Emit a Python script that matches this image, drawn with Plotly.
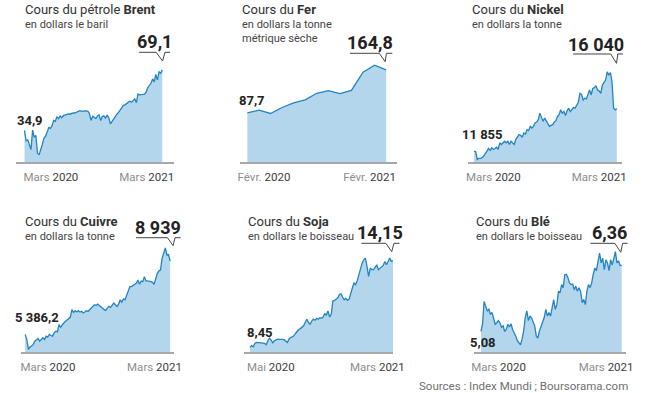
import plotly.graph_objects as go

W, H = 664, 393
FONT = "Roboto"
FILL = "#b3d6ec"
LINE = "#2384c2"
AXIS = "#a8a8a8"
DARK = "#222222"

# ---------------- data ----------------
brent = [34.9, 29.0, 29.5, 26.5, 24.0, 35.0, 31.0, 32.0, 22.0, 21.0, 23.5, 27.0, 30.5, 31.5,
         34.0, 36.5, 36.0, 37.5, 40.5, 40.0, 42.5, 41.5, 43.0, 42.0, 43.2, 43.5, 43.8, 44.2,
         44.0, 44.6, 44.8, 44.7, 45.3, 45.8, 46.0, 45.8, 45.6, 45.9, 46.0, 45.7, 44.5, 40.5,
         42.8, 42.0, 41.5, 43.0, 43.7, 40.4, 42.8, 43.0, 41.8, 43.5, 42.0, 38.5, 40.0, 40.9,
         42.5, 44.0, 45.0, 46.5, 47.8, 49.0, 49.3, 50.0, 50.8, 51.5, 50.8, 51.8, 52.7, 50.5,
         55.5, 55.0, 54.9, 55.2, 55.3, 56.5, 59.0, 60.5, 61.5, 64.0, 62.3, 66.5, 63.4, 68.0,
         67.2, 69.1]

fer = [87.7, 92.7, 86.8, 97.5, 105.7, 111.1, 122.9, 127.6, 122.3, 128.2, 160.7, 173.1, 164.8]

nickel = [11855, 11789, 11038, 11136, 11136, 11201, 11364, 11691, 11854, 12116, 11920, 12181,
          12018, 12116, 12246, 12018, 12671, 12507, 12671, 12834, 12671, 12834, 12507, 12834,
          12671, 12507, 13000, 13324, 13487, 13422, 13226, 13651, 13553, 13978, 13880, 14304,
          14141, 14304, 14631, 14729, 14958, 15611, 15186, 14795, 15121, 14795, 14468, 14304,
          14402, 14468, 14729, 14860, 15284, 15448, 15938, 15611, 15775, 15383, 15840, 16101,
          15775, 16036, 16167, 16101, 16428, 16689, 17571, 17473, 16918, 17081, 17016, 17408,
          17898, 17408, 18062, 18127, 18323, 17898, 17800, 17571, 18388, 18650, 18878, 19695,
          19368, 19630, 18715, 16101, 15938, 16040]

cuivre = [5386.2, 5144, 4664, 4776, 4824, 4904, 5064, 5144, 5192, 5064, 5144, 5224, 5144, 5304,
          5256, 5384, 5336, 5304, 5464, 5544, 5512, 5864, 5736, 5864, 5944, 6024, 6088, 6152,
          6216, 6584, 6456, 6536, 6472, 6536, 6472, 6504, 6424, 6472, 6536, 6504, 6584, 6664,
          6792, 6824, 6792, 6856, 6792, 6744, 6664, 6584, 6552, 6664, 6744, 6696, 6792, 6904,
          6824, 6744, 6856, 7064, 6952, 7112, 7064, 7304, 7432, 7704, 7704, 7752, 7816, 7864,
          8024, 7816, 7976, 7944, 8184, 7976, 7976, 7976, 7944, 7912, 7816, 8072, 8344, 8456,
          8504, 9064, 9384, 9576, 9224, 9256, 8939]

soja = [8.45, 8.56, 8.49, 8.71, 8.77, 8.77, 8.75, 8.75, 8.73, 8.71, 8.62, 8.88, 9.06, 8.93,
        8.75, 8.88, 8.93, 8.99, 8.97, 8.99, 8.97, 8.95, 8.88, 8.77, 8.99, 9.10, 9.14, 9.21,
        9.36, 9.53, 9.62, 9.68, 9.75, 9.86, 10.08, 10.30, 10.08, 9.97, 10.18, 10.30, 10.23,
        10.36, 10.30, 10.40, 10.36, 10.44, 10.66, 10.57, 10.84, 10.44, 10.62, 11.49, 11.53,
        11.60, 11.70, 11.92, 11.96, 11.75, 11.57, 11.66, 11.53, 11.62, 11.92, 12.35, 12.68,
        12.57, 12.83, 13.22, 13.44, 13.98, 14.20, 14.31, 13.77, 13.11, 13.66, 13.55, 13.55,
        13.70, 13.87, 13.55, 13.66, 13.77, 13.83, 14.09, 13.87, 14.09, 14.31, 14.09, 14.15]

ble = [5.08, 5.22, 5.66, 5.57, 5.48, 5.51, 5.41, 5.45, 5.34, 5.22, 5.25, 5.29, 5.25, 5.16,
       5.19, 5.08, 5.12, 5.22, 5.17, 5.23, 5.12, 5.06, 4.99, 4.90, 4.87, 4.82, 4.93, 5.09,
       5.35, 5.48, 5.29, 5.38, 5.34, 5.25, 5.19, 4.99, 4.95, 5.09, 5.19, 5.25, 5.35, 5.51,
       5.38, 5.45, 5.38, 5.54, 5.70, 5.51, 5.60, 5.86, 5.83, 5.99, 5.93, 6.18, 6.19, 6.12,
       6.02, 5.99, 6.00, 5.89, 5.96, 5.86, 5.93, 5.86, 5.64, 5.70, 5.60, 5.86, 5.99, 5.93,
       6.02, 6.19, 6.31, 6.26, 6.45, 6.60, 6.41, 6.50, 6.28, 6.47, 6.41, 6.26, 6.47, 6.37,
       6.49, 6.63, 6.41, 6.45, 6.36, 6.36]

series = [brent, fer, nickel, cuivre, soja, ble]
title_regular = ["Cours du pétrole ", "Cours du ", "Cours du ", "Cours du ", "Cours du ", "Cours du "]
title_bold = ["Brent", "Fer", "Nickel", "Cuivre", "Soja", "Blé"]
subtitles = [["en dollars le baril"], ["en dollars la tonne", "métrique sèche"],
             ["en dollars la tonne"], ["en dollars la tonne"],
             ["en dollars le boisseau"], ["en dollars le boisseau"]]
start_labels = ["34,9", "87,7", "11 855", "5 386,2", "8,45", "5,08"]
end_labels = ["69,1", "164,8", "16 040", "8 939", "14,15", "6,36"]
tick_months = [["Mars", "Mars"], ["Févr.", "Févr."], ["Mars", "Mars"],
               ["Mars", "Mars"], ["Mai", "Mars"], ["Mars", "Mars"]]
tick_years = ["2020", "2021"]
source_text = "Sources : Index Mundi ; Boursorama.com"

# ---------------- layout geometry (pixels) ----------------
# x0,x1: axis line extent; dx0,dx1: first/last point; yb: baseline; yt: plot top
# ymin: value at baseline; vpp: value per pixel
geo = [
    dict(x0=13, x1=175, dx0=22, dx1=163, yb=163, yt=55, ymin=16.96, vpp=0.5607,
         ticks=[49, 147], tx=20.5, ty=9.5, sy=24.5,
         end=(155.5, 42), start=(27.5, 120),
         call=[(139.3, 52.3), (156.7, 52.3), (163.3, 61), (165.7, 52.3), (171, 52.3)]),
    dict(x0=242, x1=403, dx0=250, dx1=392, yb=163, yt=55, ymin=0.0, vpp=1.772,
         ticks=[267, 375], tx=242.5, ty=9.5, sy=24.5,
         end=(375, 42.5), start=(254.7, 100.3),
         call=[(355, 53.3), (385, 53.3), (391, 61.7), (392.3, 53.3), (398.3, 53.3)]),
    dict(x0=476, x1=633, dx0=482, dx1=628, yb=163, yt=55, ymin=10777, vpp=98.0,
         ticks=[501.7, 610], tx=478.3, ty=9.5, sy=24.5,
         end=(607, 44.5), start=(490.7, 134),
         call=[(583.3, 54), (621.7, 54), (627.7, 63.3), (629, 54), (634.3, 54)]),
    dict(x0=18, x1=175, dx0=22.7, dx1=171, yb=353, yt=240, ymin=4536, vpp=48.0,
         ticks=[46, 155], tx=20.5, ty=221, sy=236,
         end=(159, 227), start=(34.7, 317.5),
         call=[(136, 237.7), (168.3, 237.7), (174, 245.7), (176, 237.7), (181.7, 237.7)]),
    dict(x0=247, x1=399, dx0=252.7, dx1=399, yb=353, yt=240, ymin=8.144, vpp=0.0651,
         ticks=[274, 383], tx=249, ty=221, sy=236,
         end=(386, 232.5), start=(262.8, 332),
         call=[(366.7, 243.3), (391.7, 243.3), (397.7, 251.7), (400, 243.3), (405.7, 243.3)]),
    dict(x0=482, x1=637, dx0=489, dx1=633, yb=353, yt=240, ymin=4.682, vpp=0.01922,
         ticks=[507, 617], tx=482.3, ty=221, sy=236,
         end=(621, 232.5), start=(491.3, 342.5),
         call=[(601, 243.3), (626, 243.3), (632, 252.3), (634, 243.3), (639, 243.3)]),
]


def fx(x):
    return x / W


def fy(y):
    return 1 - y / H


fig = go.Figure()
annotations = []
shapes = []
layout_axes = {}

for i, (vals, g) in enumerate(zip(series, geo)):
    k = "" if i == 0 else str(i + 1)
    n = len(vals)
    xs = list(range(n))
    span = g["dx1"] - g["dx0"]
    scale = (n - 1) / span  # index units per pixel
    xr = [-(g["dx0"] - g["x0"]) * scale, (n - 1) + (g["x1"] - g["dx1"]) * scale]
    yr = [g["ymin"], g["ymin"] + g["vpp"] * (g["yb"] - g["yt"])]
    tickvals = [(p - g["dx0"]) * scale for p in g["ticks"]]
    ticktext = [f"<span style='color:#8d8d8d'>{m}</span> {y}"
                for m, y in zip(tick_months[i], tick_years)]

    fig.add_trace(go.Scatter(
        x=xs, y=vals, mode="lines", fill="tozeroy", fillcolor=FILL,
        line=dict(color=LINE, width=1.3), hoverinfo="skip",
        xaxis="x" + k, yaxis="y" + k, showlegend=False))

    layout_axes["xaxis" + k] = dict(
        domain=[fx(g["x0"]), fx(g["x1"])], range=xr, anchor="y" + k,
        showgrid=False, zeroline=False, showline=True, linecolor=AXIS, linewidth=2,
        tickmode="array", tickvals=tickvals, ticktext=ticktext, ticks="",
        tickfont=dict(family=FONT, size=11.5, color="#3c3c3c"), ticklabelstandoff=3,
        fixedrange=True)
    layout_axes["yaxis" + k] = dict(
        domain=[fy(g["yb"] - 1), fy(g["yt"])], range=yr, anchor="x" + k,
        visible=False, fixedrange=True)

    # title & subtitle
    annotations.append(dict(
        x=fx(g["tx"]), y=fy(g["ty"]), xref="paper", yref="paper",
        xanchor="left", yanchor="middle", showarrow=False,
        text=f"{title_regular[i]}<b>{title_bold[i]}</b>",
        font=dict(family=FONT, size=13, color="#333333")))
    for j, s in enumerate(subtitles[i]):
        annotations.append(dict(
            x=fx(g["tx"]), y=fy(g["sy"] + 14 * j), xref="paper", yref="paper",
            xanchor="left", yanchor="middle", showarrow=False, text=s,
            font=dict(family=FONT, size=11, color="#444444")))
    # last value label
    annotations.append(dict(
        x=fx(g["end"][0]), y=fy(g["end"][1]), xref="paper", yref="paper",
        xanchor="center", yanchor="middle", showarrow=False,
        text=f"<b>{end_labels[i]}</b>",
        font=dict(family=FONT, size=18, color=DARK)))
    # first value label
    annotations.append(dict(
        x=fx(g["start"][0]), y=fy(g["start"][1]), xref="paper", yref="paper",
        xanchor="center", yanchor="middle", showarrow=False,
        text=f"<b>{start_labels[i]}</b>",
        font=dict(family=FONT, size=13, color=DARK)))
    # callout connector
    pts = g["call"]
    path = "M " + " L ".join(f"{fx(px):.5f},{fy(py):.5f}" for px, py in pts)
    shapes.append(dict(type="path", path=path, xref="paper", yref="paper",
                       line=dict(color="#444444", width=1)))

annotations.append(dict(
    x=fx(641), y=fy(385.5), xref="paper", yref="paper", xanchor="right", yanchor="middle",
    showarrow=False, text=source_text, font=dict(family=FONT, size=11.5, color="#6f6f6f")))

fig.update_layout(
    width=W, height=H, autosize=False,
    margin=dict(l=0, r=0, t=0, b=0),
    paper_bgcolor="white", plot_bgcolor="rgba(0,0,0,0)",
    annotations=annotations, shapes=shapes,
    **layout_axes)

fig.write_html(
    "out.html",
    config={"displayModeBar": False},
    post_script="document.body.style.margin='0';"
                "document.documentElement.style.overflow='hidden';"
                "document.body.style.overflow='hidden';")
